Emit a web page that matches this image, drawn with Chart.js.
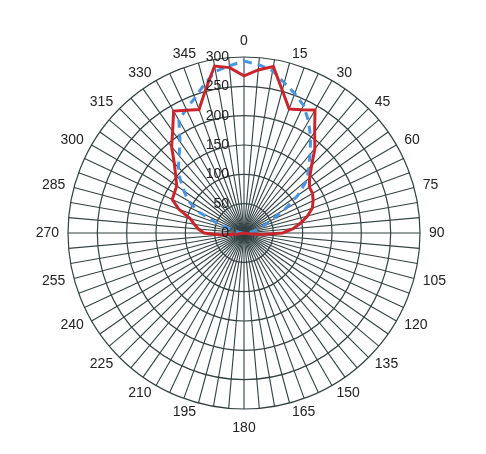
<!DOCTYPE html>
<html>
<head>
<meta charset="utf-8">
<script src="https://cdn.jsdelivr.net/npm/chart.js@4"></script>
<style>
    body { margin: 0; background: #fff; }
    #wrap { width: 486px; height: 454px; }
</style>
</head>
<body>
<div id="wrap"><canvas id="polar-chart"></canvas></div>
<script>
// angles, every 5 degrees
const angles = [
    0, 5, 10, 15, 20, 25, 30, 35, 40, 45, 50, 55,
    60, 65, 70, 75, 80, 85, 90, 95, 100, 105, 110, 115,
    120, 125, 130, 135, 140, 145, 150, 155, 160, 165, 170, 175,
    180, 185, 190, 195, 200, 205, 210, 215, 220, 225, 230, 235,
    240, 245, 250, 255, 260, 265, 270, 275, 280, 285, 290, 295,
    300, 305, 310, 315, 320, 325, 330, 335, 340, 345, 350, 355
];

// red solid series
const redValues = [
    268, 279, 288, 252, 225, 232, 242, 210, 188, 163, 146, 136,
    135, 130, 124, 112, 98, 84, 66, 30, 8, 0, 0, 0,
    0, 0, 0, 0, 0, 0, 0, 0, 0, 0, 0, 0,
    0, 0, 0, 0, 0, 0, 0, 0, 0, 0, 0, 0,
    0, 0, 0, 0, 10, 40, 68, 78, 86, 95, 118, 135,
    137, 140, 152, 168, 192, 212, 240, 231, 224, 253, 289, 283
];

// blue dashed series
const blueValues = [
    293, 288, 281, 265, 253, 240, 220, 198, 175, 156, 140, 112,
    80, 52, 36, 26, 15, 6, 0, 0, 0, 0, 0, 0,
    0, 0, 0, 0, 0, 0, 0, 0, 0, 0, 0, 0,
    0, 0, 0, 0, 0, 0, 0, 0, 0, 0, 0, 0,
    0, 0, 0, 0, 0, 0, 0, 4, 9, 20, 50, 85,
    110, 125, 142, 158, 172, 190, 222, 233, 245, 262, 280, 286
];

// radial ticks
const tickValues = [0, 50, 100, 150, 200, 250, 300];

const FONT = '"Liberation Sans", Arial, sans-serif';
const GRID = '#334242';
const TEXT = '#222';

// radial tick labels, right aligned left of the 0 spoke
const tickLabels = {
    id: 'tickLabels',
    afterDatasetsDraw(chart) {
        const r = chart.scales.r;
        const ctx = chart.ctx;
        ctx.save();
        ctx.font = '14px ' + FONT;
        ctx.fillStyle = TEXT;
        ctx.textAlign = 'right';
        ctx.textBaseline = 'middle';
        tickValues.forEach(v => {
            ctx.fillText(String(v), r.xCenter - 15, r.yCenter - r.getDistanceFromCenterForValue(v));
        });
        ctx.restore();
    }
};

// angle labels every 15 degrees, vertically centred on the spoke end
const angleLabels = {
    id: 'angleLabels',
    afterDraw(chart) {
        const r = chart.scales.r;
        const ctx = chart.ctx;
        ctx.save();
        ctx.font = '14px ' + FONT;
        ctx.fillStyle = TEXT;
        angles.forEach((a, i) => {
            if (a % 15 !== 0) return;
            const p = r.getPointPosition(i, r.drawingArea + (a === 180 ? 12 : 9));
            ctx.textAlign = (a === 0 || a === 180) ? 'center' : (a < 180 ? 'left' : 'right');
            ctx.textBaseline = a === 0 ? 'bottom' : (a === 180 ? 'top' : 'middle');
            ctx.fillText(String(a), p.x, p.y);
        });
        ctx.restore();
    }
};

const ctx = document.getElementById('polar-chart');

new Chart(ctx, {
    type: 'radar',
    data: {
        labels: angles,
        datasets: [{
            data: redValues,
            borderColor: '#c9252d',
            borderWidth: 3,
            fill: false,
            pointRadius: 0,
            tension: 0
        }, {
            data: blueValues,
            borderColor: '#4a94e0',
            borderWidth: 3,
            borderDash: [8, 6],
            fill: false,
            pointRadius: 0,
            tension: 0
        }]
    },
    options: {
        responsive: true,
        maintainAspectRatio: false,
        animation: false,
        layout: {
            padding: { left: 68, right: 66, top: 57, bottom: 45 }
        },
        plugins: {
            legend: { display: false },
            tooltip: { enabled: false }
        },
        scales: {
            r: {
                min: 0,
                max: 300,
                startAngle: 0,
                ticks: {
                    display: false,
                    stepSize: 50
                },
                grid: {
                    circular: true,
                    color: GRID,
                    lineWidth: 1.2
                },
                angleLines: {
                    color: GRID,
                    lineWidth: 1.1
                },
                pointLabels: {
                    display: false
                }
            }
        }
    },
    plugins: [tickLabels, angleLabels]
});
</script>
</body>
</html>
